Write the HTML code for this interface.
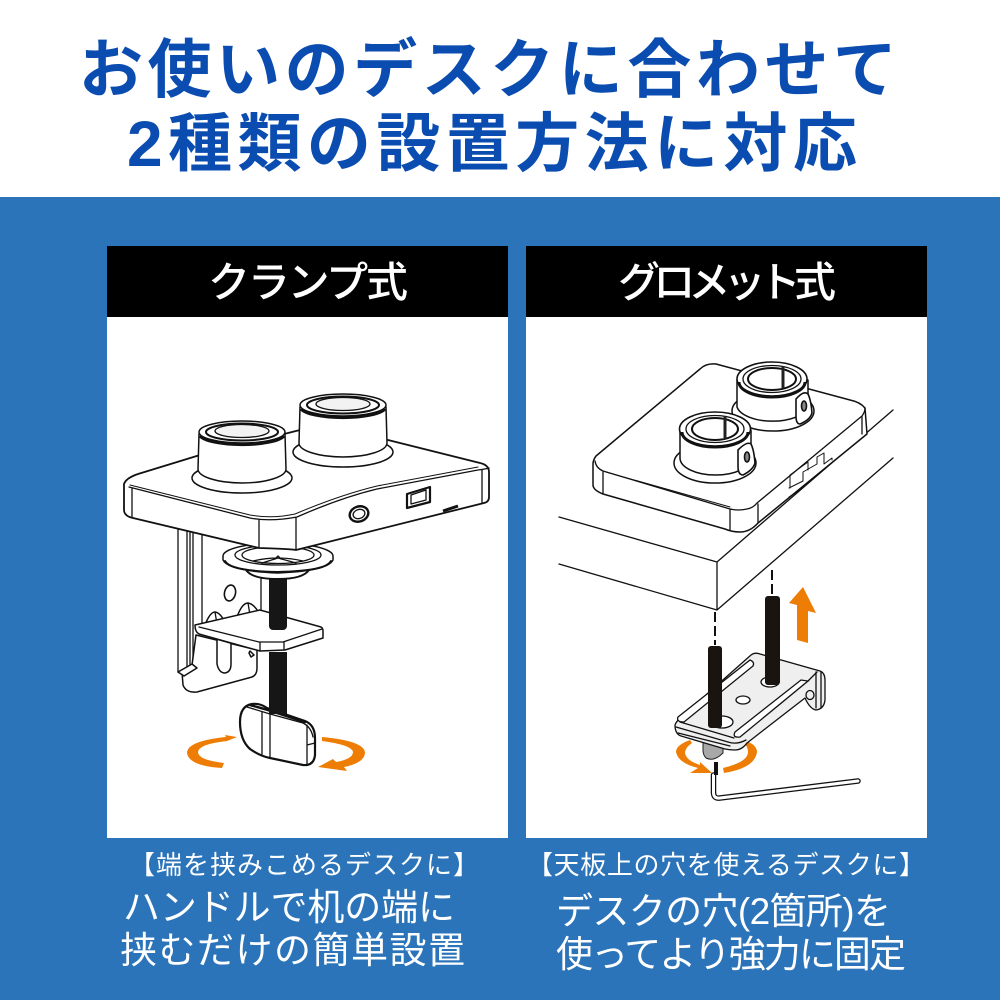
<!DOCTYPE html>
<html lang="ja"><head><meta charset="utf-8"><style>
html,body{margin:0;padding:0;background:#fff}
svg{display:block}
text{font-family:"Liberation Sans","Noto Sans CJK JP",sans-serif}
.t{font-size:64px;font-weight:700;fill:#0a4cb0}
.h{font-size:42px;font-weight:500;fill:#fff}
.s{font-size:26px;fill:#fff}
.m{font-size:37px;fill:#fff}
.l{fill:#fff;stroke:#111;stroke-width:1.5;stroke-linejoin:round;stroke-linecap:round}
.n{fill:none;stroke:#111;stroke-width:1.3;stroke-linejoin:round;stroke-linecap:round}
.b{fill:none;stroke:#111;stroke-width:3}
.o{fill:#ee7d05}
</style></head><body>
<svg width="1000" height="1000" viewBox="0 0 1000 1000" xmlns="http://www.w3.org/2000/svg">
<rect width="1000" height="1000" fill="#fff"/>
<rect y="197" width="1000" height="803" fill="#2b74b9"/>
<text class="t" x="79" y="92" textLength="818" lengthAdjust="spacing">お使いのデスクに合わせて</text>
<text class="t" x="127" y="166" textLength="730" lengthAdjust="spacing">2種類の設置方法に対応</text>

<rect x="107" y="246" width="401" height="592" fill="#fff"/>
<rect x="526" y="246" width="401" height="592" fill="#fff"/>
<rect x="107" y="246" width="401" height="71" fill="#000"/>
<rect x="526" y="246" width="401" height="71" fill="#000"/>
<text class="h" x="208" y="297" textLength="200" lengthAdjust="spacing">クランプ式</text>
<text class="h" x="618" y="297" textLength="218" lengthAdjust="spacing">グロメット式</text>

<text class="s" x="129" y="874" textLength="350" lengthAdjust="spacing">【端を挟みこめるデスクに】</text>
<text class="s" x="527" y="874" textLength="398" lengthAdjust="spacing">【天板上の穴を使えるデスクに】</text>
<text class="m" x="123" y="920" textLength="332" lengthAdjust="spacing">ハンドルで机の端に</text>
<text class="m" x="120" y="963" textLength="345" lengthAdjust="spacing">挟むだけの簡単設置</text>
<text class="m" x="556" y="924" textLength="335" lengthAdjust="spacing">デスクの穴(2箇所)を</text>
<text class="m" x="556" y="967" textLength="350" lengthAdjust="spacing">使ってより強力に固定</text>

<!-- CLAMP -->
<g>
<path class="n" d="M178 525V672L192 665M187 530V667M190 530V666M193 530V664M202 535V628"/>
<path class="l" d="M182 672L192 665L196 635L257 650V668Q257 675 252 677L197 692Q186 693 183 685Z"/>
<path class="l" d="M178 672L192 664L197 668L184 676Z"/>
<path class="n" d="M261 570V612"/>
<ellipse class="n" cx="230" cy="593" rx="5.5" ry="8" transform="rotate(12 230 593)" style="stroke-width:1.6"/>
<path class="l" d="M217 640V664Q219 673 225 673Q231 672 231 664V644"/>
<path class="l" d="M205 625Q210 612 215 612Q221 613 225 623L237 617Q242 603 248 603Q254 604 259 613L250 630H210Z"/>
<path class="n" d="M215 612L217 624M248 603L250 615"/>
<path class="l" d="M195 625L260 610L321 627Q323 628 323 631V638L285 650L260 651L199 634Q195 632 195 625Z"/>
<path class="n" d="M199 627L259 642H283L322 629M260 642V651M284 642V650"/>
<path class="l" d="M250 651L254 655L251 657L249 653Z"/>
<rect x="269" y="575" width="18" height="55" rx="4" fill="#161616"/>
<rect x="269" y="652" width="18" height="63" fill="#161616"/>
<!-- disc -->
<path class="l" d="M246 570Q252 579 278 579Q303 579 309 570Z" style="stroke-width:2"/>
<path class="l" d="M223 556A55 13 0 0 1 333 556V560Q328 571 278 573Q228 571 223 560Z"/>
<ellipse class="n" cx="278" cy="555" rx="43" ry="10"/>
<ellipse class="n" cx="278" cy="555" rx="36" ry="8.5"/>
<path class="n" d="M253 561Q278 555 303 561M262 563L278 558L296 563M275 559L278 556L281 559"/>
<path class="n" d="M225 561Q230 571 278 572Q326 571 331 561" style="stroke-width:2"/>
<!-- plate -->
<path class="l" d="M124 484Q126 478 138 474L200 455L300 430L388 440L480 463Q489 465 489 472V497Q489 502 484 503L296 550Q292 549 259 548L133 518Q124 516 124 510Z" style="stroke-width:1.8"/>
<path class="n" d="M129 487L250 518Q270 522 297 517Q340 498 377 489L478 470Q486 469 489 468M132 488V517M259 520V547M296 518V549M482 470V503"/>
<path class="n" d="M130 485L250 515Q272 519 295 514Q340 495 377 486L478 467" style="stroke-width:1"/>
<ellipse class="n" cx="359" cy="514" rx="9.5" ry="7.5" transform="rotate(-18 359 514)" style="stroke-width:2.4"/>
<ellipse class="n" cx="359" cy="514" rx="6" ry="4.5" transform="rotate(-18 359 514)"/>
<path class="n" style="stroke-width:2.2" d="M407 494L430 487V502L407 508Z"/>
<path class="n" d="M411 495L426 490V500L411 504Z"/>
<path class="b" d="M443 511L458 506"/>
<!-- cylinders -->
<g>
<ellipse class="l" cx="242" cy="478" rx="50" ry="15"/>
<path class="l" d="M199 434L198 469A44 14 0 0 0 286 469L285 434Z"/>
<ellipse class="l" cx="242" cy="432" rx="43" ry="11"/>
<ellipse class="n" cx="242" cy="432" rx="36" ry="8.5" style="stroke-width:2"/>
<ellipse cx="242" cy="431" rx="27" ry="6.5" fill="#f2f2f2" stroke="#111" stroke-width="1.3"/>
<path class="b" d="M200 436A43 11 0 0 0 284 436"/>
</g>
<g>
<ellipse class="l" cx="343" cy="452" rx="50" ry="15"/>
<path class="l" d="M300 407L299 443A44 14 0 0 0 387 443L386 407Z"/>
<ellipse class="l" cx="343" cy="405" rx="43" ry="11"/>
<ellipse class="n" cx="343" cy="405" rx="36" ry="8.5" style="stroke-width:2"/>
<ellipse cx="343" cy="404" rx="27" ry="6.5" fill="#f2f2f2" stroke="#111" stroke-width="1.3"/>
<path class="b" d="M301 409A43 11 0 0 0 385 409"/>
</g>
<!-- knob -->
<path class="l" d="M240 722Q240 706 252 704Q260 703 267 708L305 721Q315 725 315 738V755Q314 766 303 765L270 758Q260 756 250 749Q240 740 240 722Z" style="stroke-width:2.2"/>
<path class="n" d="M247 707L270 714L303 723Q311 727 313 737M262 712V754M270 714V758M307 725V764M307 745L315 743"/>
<path class="n" d="M250 705L268 710L305 722" style="stroke-width:2.5"/>
<rect x="269" y="700" width="18" height="14" fill="#161616"/>
<!-- arrows -->
<path class="o" d="M237 737L225 735L226 737Q187 741 187 753Q189 766 222 768L224 763Q198 760 198 752Q199 744 227 741Z"/>
<path class="o" d="M322 737Q365 741 365 753Q364 763 344 767L347 771L318 767L333 759L336 762Q353 759 353 752Q352 745 322 741Z"/>
</g>

<!-- GROMMET -->
<g>
<path class="n" d="M559 517L717 562L893 410M559 564L717 610L893 458M717 562V610"/>
<path class="l" d="M593 464Q593 460 596 456L700 369Q706 363 716 364L850 400Q860 402 865 408L867 434L758 523Q750 532 740 532Q732 532 725 529L603 494Q593 490 593 485Z"/>
<path class="n" d="M595 461Q596 468 603 471L730 509Q738 511 747 509Q753 508 757 503L862 416Q865 412 865 408M603 472V494M730 510V530M758 504V523M862 416V434"/>
<path class="n" d="M606 472L730 507" style="stroke-width:1"/>
<path class="n" d="M789 488L803 481V472L817 464V457L824 453V464L832 458V460M800 490L789 497M790 475V488M790 475L808 462V470" style="stroke-width:1"/>
<!-- upper collar -->
<ellipse class="l" cx="773" cy="411" rx="41" ry="20"/>
<path class="l" d="M737 380V407A36 17 0 0 0 808 407V380Z"/>
<ellipse class="l" cx="772" cy="379" rx="35" ry="17" style="stroke-width:1.6"/>
<path class="b" d="M739 382A33 15 0 0 0 805 382" style="stroke-width:3"/>
<ellipse class="n" cx="772" cy="379" rx="29" ry="13.5"/>
<ellipse cx="772" cy="379" rx="24" ry="11" fill="#fff" stroke="#111" stroke-width="2"/>
<path d="M783 366V388" stroke="#222" stroke-width="3" fill="none"/>
<path class="l" d="M796 399Q804 390 808 394Q811 400 812 413Q810 420 800 424Q796 424 796 416Z" style="stroke-width:1.6"/>
<ellipse cx="804" cy="406" rx="2.5" ry="5" fill="#888" stroke="#111" stroke-width="1.6"/>
<!-- lower collar -->
<ellipse class="l" cx="715" cy="463" rx="41" ry="20"/>
<path class="l" d="M680 430V458A35.5 17 0 0 0 751 458V430Z"/>
<ellipse class="l" cx="715" cy="429" rx="35.5" ry="17" style="stroke-width:1.6"/>
<path class="b" d="M682 432A33 15 0 0 0 748 432" style="stroke-width:3"/>
<ellipse class="n" cx="715" cy="429" rx="29" ry="13.5"/>
<ellipse cx="715" cy="429" rx="23" ry="11" fill="#fff" stroke="#111" stroke-width="2"/>
<path d="M725 416V438" stroke="#222" stroke-width="3" fill="none"/>
<path class="l" d="M738 450Q747 441 751 444Q754 450 755 463Q753 470 743 475Q738 475 738 466Z" style="stroke-width:1.6"/>
<ellipse cx="747" cy="457" rx="2.5" ry="5" fill="#888" stroke="#111" stroke-width="1.6"/>
<!-- dashes -->
<path d="M772 570V595M715 612V645" fill="none" stroke="#111" stroke-width="2" stroke-dasharray="10 4"/>
<!-- arrow up -->
<path class="o" d="M803 587L816 613L808 611V643L797 640V605L789 603Z"/>
<!-- hex-key rotation arrows -->
<path class="o" d="M690 740Q676 745 676 752Q678 763 698 768L690 773L712 773L700 762V765Q685 760 685 752Q686 747 692 743Z"/>
<path class="o" d="M746 741Q757 745 757 752Q755 768 724 773L723 768Q748 762 748 752Q748 747 744 743Z"/>
<path d="M703 742H723V753Q714 762 706 758Q703 755 703 750Z" fill="#a8a8a8" stroke="#222"/>
<!-- bracket -->
<path d="M675 725Q676 722 680 718L751 655Q755 652 760 654L820 671Q825 673 825 680V700Q824 709 816 710Q810 709 805 698L747 743Q742 750 735 750Q730 750 725 749L681 736Q675 734 675 725Z" fill="#efefef" stroke="#111" stroke-width="1.3" stroke-linejoin="round"/>
<path class="n" d="M678 733L730 746M676 727L728 742Q737 745 746 740M680 722L734 738"/>
<path d="M678 717L750 660Q755 662 753 666L684 722Q676 722 678 717Z" fill="#fff" stroke="#111" stroke-width="1.3"/>
<path d="M735 732L801 680L808 681L740 737Q732 738 735 732Z" fill="#fff" stroke="#111" stroke-width="1.3"/>
<path class="n" d="M808 681L817 672M816 672V708M821 672V708"/>
<ellipse class="n" cx="743" cy="700" rx="7" ry="4" style="fill:#fff"/>
<ellipse class="n" cx="770" cy="682" rx="9" ry="5" style="fill:#fff"/>
<ellipse class="n" cx="722" cy="722" rx="11" ry="6" style="fill:#fff"/>
<ellipse class="n" cx="810" cy="695" rx="4" ry="4.5"/>
<rect x="708" y="646" width="14" height="82" rx="3" fill="#1a1410"/>
<rect x="765" y="596" width="15" height="89" rx="3" fill="#1a1410"/>
<!-- hex key -->
<path d="M713.5 775V793Q714 799 720 798L858 781" fill="none" stroke="#111" stroke-width="5.5" stroke-linecap="round"/>
<path d="M713.5 775V793Q714 799 720 798L858 781" fill="none" stroke="#fff" stroke-width="3" stroke-linecap="round"/>
<path d="M716 762V775" stroke="#111" stroke-width="4" fill="none"/>
</g>
</svg>
</body></html>
